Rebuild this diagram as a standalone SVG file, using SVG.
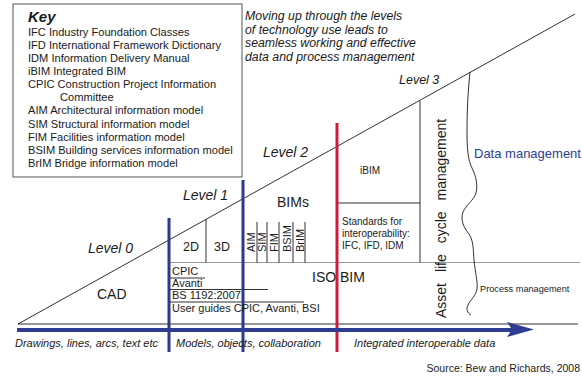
<svg xmlns="http://www.w3.org/2000/svg" width="582" height="377" viewBox="0 0 582 377">
  <style>
    text { font-family: "Liberation Sans", Arial, sans-serif; fill: #1a1a1a; }
    .key { font-size: 11.1px; }
    .it { font-style: italic; }
    .lvl { font-size: 14px; font-style: italic; }
    .thin { stroke: #1a1a1a; stroke-width: 0.9; fill: none; }
    .grey { stroke: #9a9a9a; stroke-width: 1; fill: none; }
    .blue { stroke: #2b3a8c; stroke-width: 3; fill: none; }
    .red { stroke: #cf1b3b; stroke-width: 3; fill: none; }
    .sm { font-size: 11px; }
    .rot { font-size: 11px; }
  </style>

  <rect width="582" height="377" fill="#ffffff"/>

  <!-- Key box -->
  <g id="key">
    <rect x="13" y="4" width="229" height="173" fill="#ffffff" stroke="#555" stroke-width="1"/>
    <text x="28" y="22" font-size="15" font-weight="bold" font-style="italic">Key</text>
    <text class="key" x="28" y="36">IFC Industry Foundation Classes</text>
    <text class="key" x="28" y="49">IFD International Framework Dictionary</text>
    <text class="key" x="28" y="62">IDM Information Delivery Manual</text>
    <text class="key" x="28" y="75">iBIM Integrated BIM</text>
    <text class="key" x="28" y="88">CPIC Construction Project Information</text>
    <text class="key" x="60" y="101">Committee</text>
    <text class="key" x="28" y="114">AIM Architectural information model</text>
    <text class="key" x="28" y="128">SIM Structural information model</text>
    <text class="key" x="28" y="141">FIM Facilities information model</text>
    <text class="key" x="28" y="154">BSIM Building services information model</text>
    <text class="key" x="28" y="167">BrIM Bridge information model</text>
  </g>

  <!-- Caption -->
  <g id="caption" class="it" font-size="12.3">
    <text x="245" y="20">Moving up through the levels</text>
    <text x="245" y="33.5">of technology use leads to</text>
    <text x="245" y="47">seamless working and effective</text>
    <text x="245" y="60.5">data and process management</text>
  </g>

  <!-- Structure lines -->
  <g id="connectors">
    <!-- rising diagonal -->
    <line class="thin" x1="18" y1="324" x2="575" y2="14" stroke-width="1.3"/>
    <!-- baseline -->
    <line class="thin" x1="18" y1="324" x2="578" y2="324" stroke-width="1.3"/>
    <!-- grey divider -->
    <line class="grey" x1="169" y1="262.5" x2="580" y2="262.5"/>
    <!-- 2D / 3D divider -->
    <line class="thin" x1="206" y1="219" x2="206" y2="262.5" stroke="#777"/>
    <!-- BIM model dividers -->
    <line class="thin" x1="257" y1="222" x2="257" y2="262.5"/>
    <line class="thin" x1="267" y1="222" x2="267" y2="262.5"/>
    <line class="thin" x1="279" y1="222" x2="279" y2="262.5"/>
    <line class="thin" x1="293" y1="222" x2="293" y2="262.5"/>
    <line class="thin" x1="305" y1="222" x2="305" y2="262.5"/>
    <!-- CPIC rows -->
    <line class="thin" x1="169" y1="278" x2="205" y2="278"/>
    <line class="thin" x1="169" y1="289.5" x2="268" y2="289.5"/>
    <line class="thin" x1="169" y1="302" x2="304" y2="302"/>
    <!-- iBIM box -->
    <line class="thin" x1="337" y1="203" x2="420" y2="203"/>
    <line class="thin" x1="420" y1="101" x2="420" y2="262.5"/>
    <!-- wavy boundary -->
    <path class="thin" d="M470,72 C468,90 467,110 467,130 C467,150 468,160 472,168 C476,176 478,185 476,193 C474,200 466,205 463,212 C460,220 464,228 469,234 C474,242 473,250 474,260 C475,272 478,282 477,289 C476,296 470,300 468,305 C466,309 467,313 471,315"/>
    <!-- level boundaries -->
    <line class="blue" x1="169" y1="218" x2="169" y2="352"/>
    <line class="blue" x1="243" y1="180" x2="243" y2="352"/>
    <line class="red" x1="337" y1="123" x2="337" y2="352"/>
    <!-- timeline arrow -->
    <line x1="17" y1="330" x2="512" y2="330" stroke="#2e3d92" stroke-width="4"/>
    <polygon points="507,322 534,329.5 507,337 512,329.5" fill="#2e3d92"/>
  </g>

  <!-- Level 0 -->
  <g id="level0">
    <text class="lvl" x="88" y="253">Level 0</text>
    <text x="97" y="299" font-size="14">CAD</text>
  </g>

  <!-- Level 1 -->
  <g id="level1">
    <text class="lvl" x="183" y="200">Level 1</text>
    <text x="183" y="251" font-size="12.5">2D</text>
    <text x="214" y="251" font-size="12.5">3D</text>
    <text class="sm" x="172" y="275">CPIC</text>
    <text class="sm" x="172" y="287">Avanti</text>
    <text class="sm" x="172" y="299">BS 1192:2007</text>
    <text class="sm" x="172" y="312">User guides CPIC, Avanti, BSI</text>
  </g>

  <!-- BIMs -->
  <g id="bims">
    <text x="277" y="207" font-size="14">BIMs</text>
    <text class="rot" transform="translate(254.5,252) rotate(-90)">AIM</text>
    <text class="rot" transform="translate(266,252) rotate(-90)">SIM</text>
    <text class="rot" transform="translate(277.5,252) rotate(-90)">FIM</text>
    <text class="rot" transform="translate(290.5,252) rotate(-90)">BSIM</text>
    <text class="rot" transform="translate(304,252) rotate(-90)">BrIM</text>
    <text x="312" y="282" font-size="14">ISO BIM</text>
  </g>

  <!-- Level 2 -->
  <g id="level2">
    <text class="lvl" x="263" y="157">Level 2</text>
    <text x="360" y="174" font-size="10">iBIM</text>
    <text x="342" y="225" font-size="10">Standards for</text>
    <text x="342" y="237" font-size="10">interoperability:</text>
    <text x="342" y="249" font-size="10">IFC, IFD, IDM</text>
  </g>

  <!-- Level 3 -->
  <g id="level3">
    <text x="399" y="84" font-size="12.5" font-style="italic">Level 3</text>
    <text transform="translate(446,318) rotate(-90)" font-size="14" word-spacing="7">Asset life cycle management</text>
    <text x="474" y="158" font-size="13" style="fill:#2e3d92">Data management</text>
    <text x="480" y="292" font-size="9.2">Process management</text>
  </g>

  <!-- Timeline labels -->
  <g id="labels" class="it" font-size="11">
    <text x="15" y="347">Drawings, lines, arcs, text etc</text>
    <text x="176" y="347">Models, objects, collaboration</text>
    <text x="354" y="347">Integrated interoperable data</text>
  </g>
  <text x="580" y="372" font-size="10.5" text-anchor="end">Source: Bew and Richards, 2008</text>
</svg>
